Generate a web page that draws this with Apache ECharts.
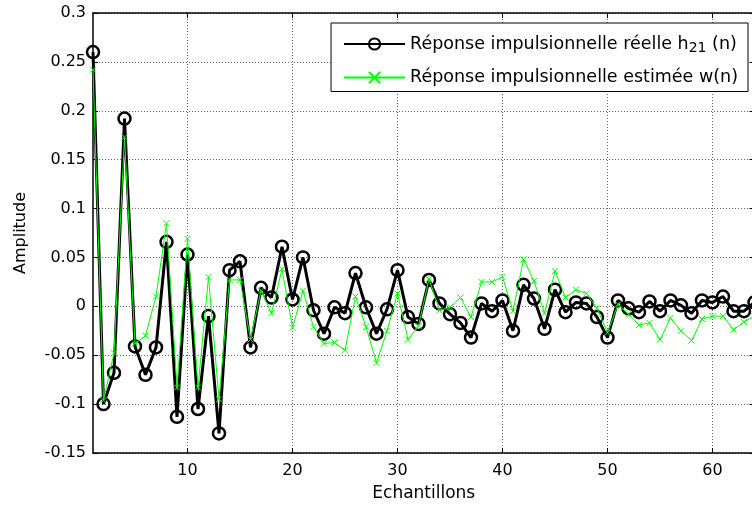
<!DOCTYPE html>
<html><head><meta charset="utf-8">
<script src="https://cdn.jsdelivr.net/npm/echarts@6/dist/echarts.min.js"></script>
<style>html,body{margin:0;padding:0;background:#fff}#c{width:752px;height:505px}</style>
</head><body><div id="c"></div>
<script>
const samples = [1,2,3,4,5,6,7,8,9,10,11,12,13,14,15,16,17,18,19,20,21,22,23,24,25,26,27,28,29,30,31,32,33,34,35,36,37,38,39,40,41,42,43,44,45,46,47,48,49,50,51,52,53,54,55,56,57,58,59,60,61,62,63,64];
const h21 = [0.260,-0.100,-0.068,0.192,-0.041,-0.070,-0.042,0.066,-0.113,0.053,
  -0.105,-0.010,-0.130,0.037,0.046,-0.042,0.019,0.009,0.061,0.007,
  0.050,-0.004,-0.028,-0.001,-0.007,0.034,-0.001,-0.028,-0.003,0.037,
  -0.011,-0.018,0.027,0.003,-0.008,-0.017,-0.032,0.003,-0.005,0.006,
  -0.025,0.022,0.008,-0.023,0.017,-0.006,0.004,0.003,-0.011,-0.032,
  0.006,-0.002,-0.006,0.005,-0.005,0.006,0.001,-0.007,0.006,0.004,
  0.010,-0.005,-0.005,0.004];
const wEst = [0.242,-0.096,-0.048,0.173,-0.038,-0.030,0.010,0.085,-0.083,0.069,
  -0.083,0.030,-0.095,0.027,0.027,-0.034,0.016,-0.007,0.038,-0.022,
  0.016,-0.021,-0.038,-0.037,-0.045,0.010,-0.021,-0.058,-0.025,0.013,
  -0.034,-0.020,0.028,-0.004,-0.001,0.009,-0.011,0.025,0.025,0.030,
  -0.005,0.048,0.026,-0.007,0.036,0.009,0.017,0.013,-0.002,-0.027,
  0.002,-0.008,-0.019,-0.017,-0.034,-0.012,-0.025,-0.035,-0.013,-0.010,
  -0.010,-0.024,-0.016,-0.010];
const xTicks = [10,20,30,40,50,60];
const nameH = 'Réponse impulsionnelle réelle h21 (n)';
const nameW = 'Réponse impulsionnelle estimée w(n)';
const FONT = 'DejaVu Sans';

const chart = echarts.init(document.getElementById('c'), null, {renderer:'canvas'});
const gridLine = {show:true, lineStyle:{type:[1,2], color:'#666', width:1}};
const axisLineStyle = {show:true, onZero:false, lineStyle:{color:'#000', width:1.5}};
chart.setOption({
  animation:false,
  backgroundColor:'#fff',
  grid:{left:93, top:13, width:661.5, height:440, containLabel:false, outerBoundsMode:'none'},
  xAxis:[
    {type:'value', min:1, max:64, position:'bottom',
     axisLine:axisLineStyle,
     axisTick:{show:true, inside:true, length:5, customValues:xTicks, lineStyle:{color:'#000'}},
     axisLabel:{customValues:xTicks, fontFamily:FONT, fontSize:16, color:'#000', margin:10},
     splitLine:gridLine,
     name:'Echantillons', nameLocation:'middle', nameGap:32,
     nameTextStyle:{fontFamily:FONT, fontSize:17, color:'#000'}},
    {type:'value', min:1, max:64, position:'top',
     axisLine:axisLineStyle,
     axisTick:{show:true, inside:true, length:5, customValues:xTicks, lineStyle:{color:'#000'}},
     axisLabel:{show:false}, splitLine:{show:false}}
  ],
  yAxis:[
    {type:'value', min:-0.15, max:0.3, interval:0.05, position:'left',
     axisLine:axisLineStyle,
     axisTick:{show:true, inside:true, length:5, lineStyle:{color:'#000'}},
     axisLabel:{fontFamily:FONT, fontSize:16, color:'#000', margin:7},
     splitLine:gridLine,
     name:'Amplitude', nameLocation:'middle', nameGap:64, nameRotate:90,
     nameTextStyle:{fontFamily:FONT, fontSize:16, color:'#000'}},
    {type:'value', min:-0.15, max:0.3, interval:0.05, position:'right',
     axisLine:axisLineStyle,
     axisTick:{show:true, inside:true, length:5, lineStyle:{color:'#000'}},
     axisLabel:{show:false}, splitLine:{show:false}}
  ],
  legend:{
    orient:'vertical', right:4, top:23,
    itemWidth:61, itemHeight:14, itemGap:13,
    padding:[12,10,5,12],
    borderColor:'#000', borderWidth:1, backgroundColor:'#fff',
    formatter: n => n === nameH ? 'Réponse impulsionnelle réelle h{sub|21} (n)' : n,
    textStyle:{fontFamily:FONT, fontSize:17.5, color:'#000',
      rich:{sub:{fontFamily:FONT, fontSize:14, color:'#000', padding:[9,0,0,0]}}},
    data:[nameH, nameW]
  },
  series:[
    {type:'line', name:nameH, xAxisIndex:0, yAxisIndex:0,
     data:samples.map((n,i)=>[n,h21[i]]),
     symbol:'circle', symbolSize:12, clip:false, z:3,
     itemStyle:{color:'rgba(255,255,255,0)', borderColor:'#000', borderWidth:2.5},
     lineStyle:{color:'#000', width:3}},
    {type:'line', name:nameW, xAxisIndex:0, yAxisIndex:0,
     data:samples.map((n,i)=>[n,wEst[i]]),
     symbol:'path://M0,0L10,10M0,10L10,0', symbolSize:6, clip:false, z:4,
     itemStyle:{color:'rgba(0,255,0,0)', borderColor:'#00ff00', borderWidth:1},
     lineStyle:{color:'#00ff00', width:1}}
  ]
});
</script></body></html>
